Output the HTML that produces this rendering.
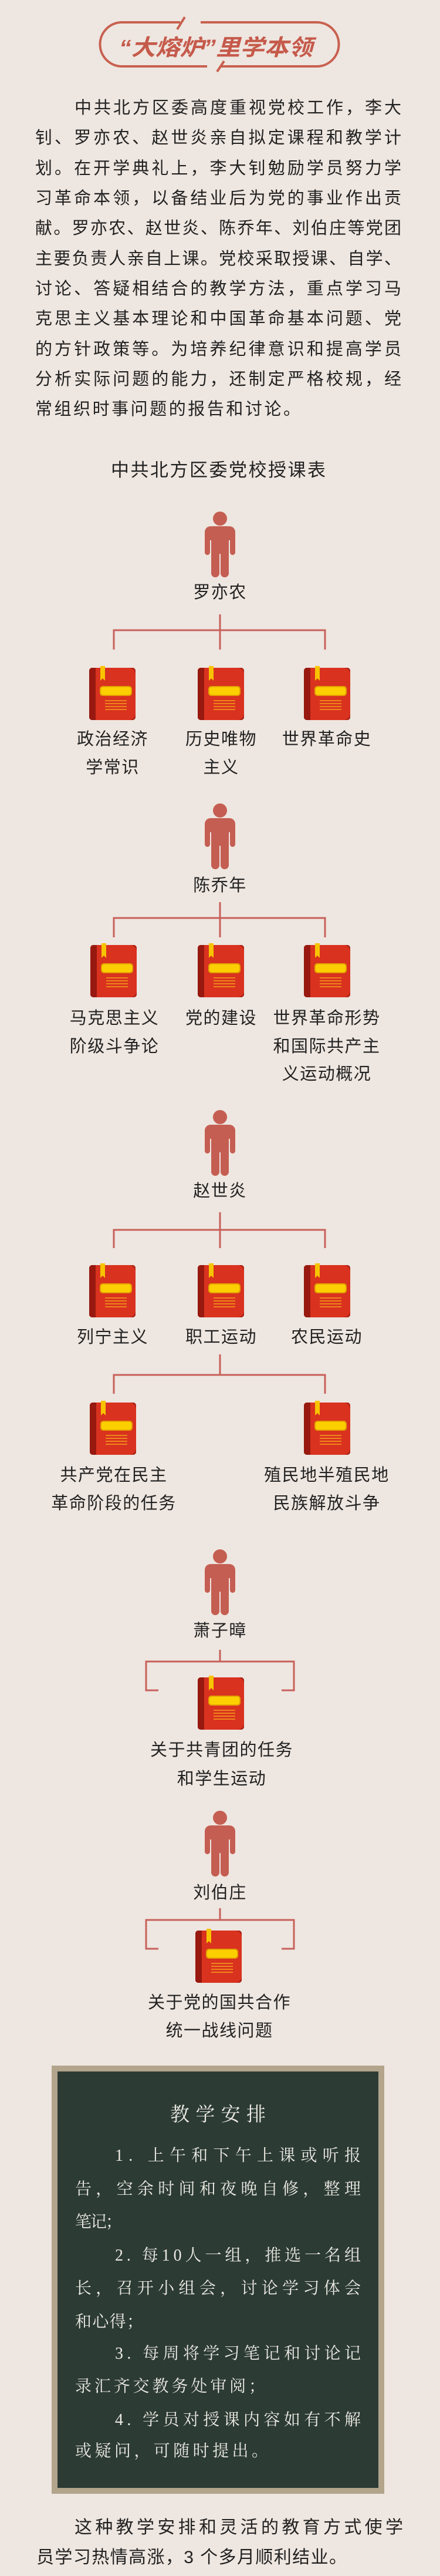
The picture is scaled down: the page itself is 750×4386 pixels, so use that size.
<!DOCTYPE html>
<html><head><meta charset="utf-8">
<style>
html,body{margin:0;padding:0;background:#eee6e0;}
svg{display:block;}
text{font-family:"Liberation Sans","Noto Sans CJK SC",sans-serif;fill:#222;}
.lab{font-size:29px;letter-spacing:1.5px;text-anchor:middle;}
.chalk{font-family:"Liberation Serif","Noto Serif CJK SC",serif;fill:#ecebe4;font-size:28px;}
</style></head><body>
<svg width="750" height="4386" viewBox="0 0 750 4386" xmlns="http://www.w3.org/2000/svg">
<defs>
<g id="person" fill="#c55e52">
  <circle cx="375" cy="0" r="12"/>
  <rect x="349" y="13" width="52" height="24" rx="10"/>
  <rect x="349" y="20" width="9" height="42" rx="4.5"/>
  <rect x="392" y="20" width="9" height="42" rx="4.5"/>
  <rect x="360" y="20" width="30" height="40"/>
  <rect x="360" y="50" width="14" height="50" rx="7"/>
  <rect x="376" y="50" width="14" height="50" rx="7"/>
</g>
<g id="book">
  <rect x="0" y="0" width="79" height="89" rx="5" fill="#d9321f"/>
  <path d="M5 0 H11 V89 H5 A5 5 0 0 1 0 84 V5 A5 5 0 0 1 5 0Z" fill="#97190f"/>
  <path d="M68 0 H74 A5 5 0 0 1 79 5 V11 A11 11 0 0 0 68 0Z" fill="#a82014"/>
  <path d="M79 78 V84 A5 5 0 0 1 74 89 H68 A11 11 0 0 0 79 78Z" fill="#a82014"/>
  <path d="M19 -3 H27 V22 L23 18 L19 22Z" fill="#f8c400"/>
  <rect x="18" y="31" width="55" height="17" rx="5" fill="#e3a400"/>
  <rect x="20" y="33" width="51" height="13" rx="4" fill="#fcd000"/>
  <g stroke="#f6a21a" stroke-width="1.6">
    <line x1="27" y1="56" x2="64" y2="56"/>
    <line x1="27" y1="61" x2="64" y2="61"/>
    <line x1="27" y1="66" x2="64" y2="66"/>
    <line x1="27" y1="71" x2="64" y2="71"/>
  </g>
</g>
</defs>

<!-- Title badge -->
<g fill="none" stroke="#c8604f" stroke-width="4" stroke-linecap="butt">
  <path d="M307 38 H208 A37.5 37.5 0 0 0 208 113 H353"/>
  <path d="M342 38 H540 A37.5 37.5 0 0 1 540 113 H375"/>
  <line x1="302" y1="50" x2="315" y2="29"/>
  <line x1="370" y1="122" x2="382" y2="104"/>
</g>
<text x="203" y="94" textLength="330" lengthAdjust="spacingAndGlyphs" style="font-size:38px;font-weight:bold;font-style:italic;fill:#c55a4b;">“大熔炉”里学本领</text>

<!-- Intro paragraph -->
<g style="font-size:29px;">
<text x="127" y="193" textLength="557">中共北方区委高度重视党校工作，李大</text>
<text x="60" y="244" textLength="624">钊、罗亦农、赵世炎亲自拟定课程和教学计</text>
<text x="60" y="296" textLength="624">划。在开学典礼上，李大钊勉励学员努力学</text>
<text x="60" y="347" textLength="624">习革命本领，以备结业后为党的事业作出贡</text>
<text x="60" y="398" textLength="624">献。罗亦农、赵世炎、陈乔年、刘伯庄等党团</text>
<text x="60" y="450" textLength="624">主要负责人亲自上课。党校采取授课、自学、</text>
<text x="60" y="501" textLength="624">讨论、答疑相结合的教学方法，重点学习马</text>
<text x="60" y="552" textLength="624">克思主义基本理论和中国革命基本问题、党</text>
<text x="60" y="604" textLength="624">的方针政策等。为培养纪律意识和提高学员</text>
<text x="60" y="655" textLength="624">分析实际问题的能力，还制定严格校规，经</text>
<text x="60" y="706" textLength="452">常组织时事问题的报告和讨论。</text>
</g>

<text x="189" y="811" textLength="366" style="font-size:31px;">中共北方区委党校授课表</text>

<!-- connectors -->
<g fill="none" stroke="#c8605a" stroke-width="3">
  <path d="M375 1046 V1106 M194 1106 V1073 H554 V1106"/>
  <path d="M375 1536 V1596 M194 1596 V1563 H554 V1596"/>
  <path d="M375 2064 V2125 M194 2125 V2094 H554 V2125"/>
  <path d="M375 2306 V2341 M194 2373 V2341 H554 V2373"/>
  <path d="M375 2809 V2829 M270 2878 H249 V2829 H501 V2878 H480"/>
  <path d="M375 3249 V3269 M270 3318 H249 V3269 H501 V3318 H480"/>
</g>

<!-- persons -->
<use href="#person" transform="translate(0,883)"/>
<use href="#person" transform="translate(0,1380)"/>
<use href="#person" transform="translate(0,1902)"/>
<use href="#person" transform="translate(0,2650)"/>
<use href="#person" transform="translate(0,3095)"/>

<g class="lab">
<text class="lab" x="375" y="1018">罗亦农</text>
<text class="lab" x="375" y="1517">陈乔年</text>
<text class="lab" x="375" y="2037">赵世炎</text>
<text class="lab" x="375" y="2786">萧子暲</text>
<text class="lab" x="375" y="3232">刘伯庄</text>
</g>

<!-- books -->
<use href="#book" transform="translate(152,1137)"/>
<use href="#book" transform="translate(337,1137)"/>
<use href="#book" transform="translate(518,1137)"/>
<use href="#book" transform="translate(154,1609)"/>
<use href="#book" transform="translate(337,1609)"/>
<use href="#book" transform="translate(518,1609)"/>
<use href="#book" transform="translate(152,2154)"/>
<use href="#book" transform="translate(337,2154)"/>
<use href="#book" transform="translate(518,2154)"/>
<use href="#book" transform="translate(153,2388)"/>
<use href="#book" transform="translate(518,2388)"/>
<use href="#book" transform="translate(337,2856)"/>
<use href="#book" transform="translate(333,3287)"/>

<!-- book labels -->
<text class="lab" x="192" y="1268">政治经济</text>
<text class="lab" x="192" y="1316">学常识</text>
<text class="lab" x="377" y="1268">历史唯物</text>
<text class="lab" x="377" y="1316">主义</text>
<text class="lab" x="557" y="1268">世界革命史</text>

<text class="lab" x="195" y="1743">马克思主义</text>
<text class="lab" x="195" y="1791">阶级斗争论</text>
<text class="lab" x="377" y="1743">党的建设</text>
<text class="lab" x="557" y="1743">世界革命形势</text>
<text class="lab" x="557" y="1791">和国际共产主</text>
<text class="lab" x="557" y="1838">义运动概况</text>

<text class="lab" x="192" y="2286">列宁主义</text>
<text class="lab" x="377" y="2286">职工运动</text>
<text class="lab" x="557" y="2286">农民运动</text>

<text class="lab" x="194" y="2521">共产党在民主</text>
<text class="lab" x="194" y="2569">革命阶段的任务</text>
<text class="lab" x="557" y="2521">殖民地半殖民地</text>
<text class="lab" x="557" y="2569">民族解放斗争</text>

<text class="lab" x="378" y="2989">关于共青团的任务</text>
<text class="lab" x="378" y="3038">和学生运动</text>

<text class="lab" x="374" y="3419">关于党的国共合作</text>
<text class="lab" x="374" y="3467">统一战线问题</text>

<!-- blackboard -->
<rect x="88" y="3517" width="567" height="729" fill="#b3a48c"/>
<rect x="98" y="3527" width="547" height="709" fill="#2c3b34"/>
<text class="chalk" x="290" y="3611" textLength="163" style="font-size:33px;">教学安排</text>
<text class="chalk" x="196" y="3679" textLength="419">1. 上午和下午上课或听报</text>
<text class="chalk" x="128" y="3736" textLength="487">告，空余时间和夜晚自修，整理</text>
<text class="chalk" x="128" y="3792" textLength="80">笔记；</text>
<text class="chalk" x="196" y="3849" textLength="419">2. 每10人一组，推选一名组</text>
<text class="chalk" x="128" y="3905" textLength="487">长，召开小组会，讨论学习体会</text>
<text class="chalk" x="128" y="3962" textLength="116">和心得；</text>
<text class="chalk" x="196" y="4016" textLength="419">3. 每周将学习笔记和讨论记</text>
<text class="chalk" x="128" y="4072" textLength="324">录汇齐交教务处审阅；</text>
<text class="chalk" x="196" y="4129" textLength="419">4. 学员对授课内容如有不解</text>
<text class="chalk" x="128" y="4182" textLength="329">或疑问，可随时提出。</text>

<!-- closing -->
<text x="127" y="4313" textLength="560" style="font-size:30px;">这种教学安排和灵活的教育方式使学</text>
<text x="62" y="4364" textLength="529" style="font-size:30px;">员学习热情高涨，3 个多月顺利结业。</text>
</svg>
</body></html>
